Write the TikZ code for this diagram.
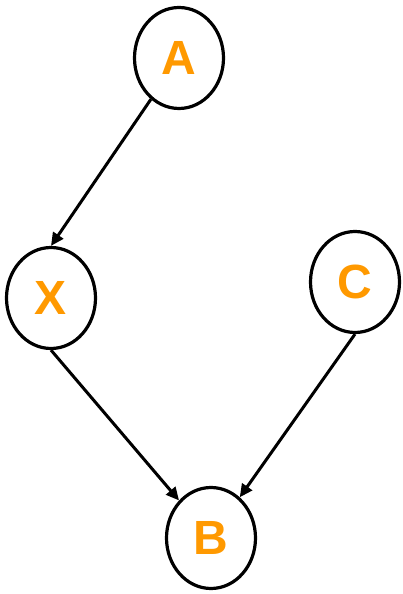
\documentclass[tikz,border=0pt]{standalone}
\usepackage{fontspec}
\setmainfont{Liberation Sans}
\usetikzlibrary{shapes.geometric,arrows.meta}
\definecolor{lblorange}{HTML}{FF9900}
\begin{document}
\begin{tikzpicture}[x=1pt,y=1pt,
  vnode/.style={ellipse,draw=black,line width=3.2pt,minimum width=89pt,minimum height=101pt,inner sep=0pt,
    text=lblorange,font=\fontsize{48}{48}\selectfont\bfseries},
  edge/.style={line width=3pt,-{Triangle[length=13pt,width=12pt]}}]
\useasboundingbox (0,0) rectangle (402,594);
\node[vnode] (A) at (179,536) {A};
\node[vnode] (X) at (51,296) {X};
\node[vnode] (C) at (355,312) {C};
\node[vnode] (B) at (211,56) {B};
\draw[edge] (A) -- (X.north);
\draw[edge] (X.south) -- (B);
\draw[edge] (C.south) -- (B);
\end{tikzpicture}
\end{document}
